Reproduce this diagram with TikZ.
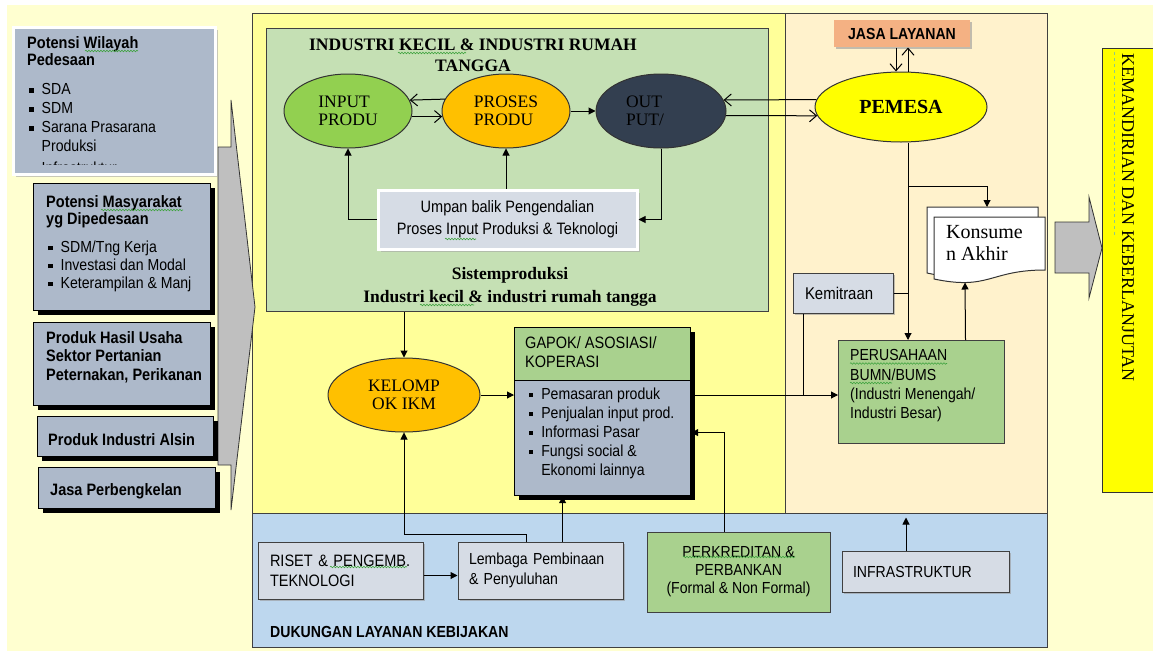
\documentclass[tikz,border=0pt]{standalone}
\usepackage{fontspec}
\setmainfont{Liberation Serif}
\setsansfont{Liberation Sans}[FakeStretch=0.88]
\usetikzlibrary{arrows.meta,shapes.geometric,shadows,calc,decorations.pathmorphing}

\definecolor{cream}{HTML}{FFFFD0}
\definecolor{panelY}{HTML}{FFFF99}
\definecolor{panelP}{HTML}{FFF2CC}
\definecolor{panelB}{HTML}{BDD7EE}
\definecolor{panelG}{HTML}{C5E0B4}
\definecolor{boxG}{HTML}{A9D18E}
\definecolor{boxS}{HTML}{ADB9CA}
\definecolor{boxL}{HTML}{D6DCE5}
\definecolor{salmon}{HTML}{F4B183}
\definecolor{navy}{HTML}{333F50}
\definecolor{lime}{HTML}{92D050}
\definecolor{amber}{HTML}{FFC000}
\definecolor{lemon}{HTML}{FFFF00}
\definecolor{arrowgray}{HTML}{BFBFBF}
\definecolor{edge}{HTML}{404040}
\definecolor{spellgreen}{HTML}{3FA33F}

\newcommand{\sfx}[2]{\sffamily\fontsize{#1}{#2}\selectfont}
\newcommand{\rmx}[2]{\rmfamily\fontsize{#1}{#2}\selectfont}
\newcommand{\sqb}{\makebox[12.5pt][l]{\rule[2pt]{4.5pt}{4.5pt}}}

\tikzset{
  panel/.style={draw=edge, line width=1.2pt, anchor=north west, inner sep=0pt},
  blk/.style={anchor=north west, inner sep=0pt},
  txt/.style={anchor=north west, inner sep=0pt, align=left},
  elli/.style={ellipse, draw=black!80, line width=1pt, inner sep=0pt},
  darkbox/.style={draw=black, line width=1.2pt, fill=boxS,
    drop shadow={shadow xshift=4pt, shadow yshift=-4pt, fill=black, opacity=1}},
  softbox/.style={draw=edge, line width=1pt,
    drop shadow={shadow xshift=2pt, shadow yshift=-2pt, fill=black!40, opacity=0.6}},
  whitebox/.style={draw=white, line width=3pt,
    drop shadow={shadow xshift=2.5pt, shadow yshift=-2.5pt, fill=black!35, opacity=0.6}},
  conn/.style={line width=1pt, draw=black},
  tri/.style={conn, -{Triangle[length=7pt,width=7pt]}},
  barb/.style={conn, -{Straight Barb[length=7pt,width=12pt]}},
  bigarrow/.style={fill=arrowgray, draw=black!80, line width=0.8pt},
  spell/.style={draw=spellgreen, line width=0.6pt, decorate,
    decoration={snake, amplitude=0.8pt, segment length=3pt}},
}

\begin{document}
\begin{tikzpicture}[x=1pt,y=-1pt]
\useasboundingbox (0,0) rectangle (1153,651);
\fill[white] (0,0) rectangle (1153,651);
\fill[cream] (7,5) rectangle (1153,651);

% main panels
\node[panel, fill=panelY, minimum width=533pt, minimum height=500pt] (Yp) at (252,13) {};
\node[panel, fill=panelP, minimum width=262pt, minimum height=500pt] (Pp) at (785,13) {};
\node[panel, fill=panelB, minimum width=795pt, minimum height=134pt] (Bp) at (252,513) {};
\node[panel, fill=panelG, minimum width=502pt, minimum height=283pt] (Gr) at (266,28) {};

% big arrows
\filldraw[bigarrow] (218,147) -- (231,147) -- (231,100) -- (255,307) -- (231,510) -- (231,465) -- (218,465) -- cycle;
\filldraw[bigarrow] (1055,222) -- (1089,222) -- (1089,197) -- (1102,248) -- (1089,298) -- (1089,273) -- (1055,273) -- cycle;

% left column
\node[whitebox, fill=boxS, blk, minimum width=202pt, minimum height=147pt] (W1) at (12,26) {};
\begin{scope}
  \clip (12,26) rectangle (214,164);
  \node[txt, font={\sfx{16.5}{17}\bfseries}] (W1t) at (27,36) {Potensi Wilayah\\Pedesaan};
  \node[txt, font={\sfx{16}{19}}] (W1b) at (29,83.4) {\sqb SDA\\\sqb SDM\\\sqb Sarana Prasarana\\\hspace*{12.5pt}Produksi\\[3pt]\sqb Infrastruktur};
\end{scope}
\draw[spell] (85,51) -- (138,51);

\node[darkbox, blk, minimum width=177pt, minimum height=127pt] (W2) at (33,183) {};
\node[txt, font={\sfx{16.5}{17}\bfseries}] (W2t) at (46,195) {Potensi Masyarakat\\yg Dipedesaan};
\node[txt, font={\sfx{16}{18}}] (W2b) at (48,240.4) {\sqb SDM/Tng Kerja\\\sqb Investasi dan Modal\\\sqb Keterampilan \& Manj};
\draw[spell] (101,210) -- (183,210);

\node[darkbox, blk, minimum width=177pt, minimum height=83pt] (W3) at (33,322) {};
\node[txt, font={\sfx{16.5}{18.5}\bfseries}] (W3t) at (46,331) {Produk Hasil Usaha\\Sektor Pertanian\\Peternakan, Perikanan};

\node[darkbox, blk, minimum width=176pt, minimum height=40pt] (W4) at (37,416) {};
\node[txt, font={\sfx{16.5}{18}\bfseries}] (W4t) at (48,433) {Produk Industri Alsin};

\node[darkbox, blk, minimum width=177pt, minimum height=41pt] (W5) at (38,467) {};
\node[txt, font={\sfx{16.5}{18}\bfseries}] (W5t) at (50,483) {Jasa Perbengkelan};

% production system
\node[anchor=north, inner sep=0pt, align=center, font={\rmx{17.5}{21}\bfseries}] (gt) at (473,38.4) {INDUSTRI KECIL \& INDUSTRI RUMAH\\TANGGA};
\node[anchor=north, inner sep=0pt, align=center, font={\rmx{17.5}{23}\bfseries}] (gb) at (510,267) {Sistemproduksi\\Industri kecil \& industri rumah tangga};
\draw[spell] (398,53) -- (466,53);
\draw[spell] (420,305) -- (474,305);

\node[elli, fill=lime, minimum width=128pt, minimum height=74pt, align=left, font={\rmx{17.5}{18}}] (I) at (348,111) {INPUT\\PRODU};
\node[elli, fill=amber, minimum width=128pt, minimum height=74pt, align=left, font={\rmx{17.5}{18}}] (P) at (506,111) {PROSES\\PRODU};
\node[elli, fill=navy, minimum width=130pt, minimum height=74pt, align=left, font={\rmx{17.5}{18}}, text=black] (O) at (661,111) {OUT\\PUT/\hspace*{32pt}};

\node[whitebox, fill=boxL, minimum width=259pt, minimum height=59pt, align=center, font={\sfx{16.5}{22}}] (F) at (507.5,219.5) {Umpan balik Pengendalian\\Proses Input Produksi \& Teknologi};
\draw[spell] (445,239) -- (476,239);

\draw[barb] (P.169.8) -- (I.10.2);
\draw[barb] (I.-5.4) -- (P.185.4);
\draw[tri] (P.east) -- (O.west);
\draw[tri] (F.west) -| (I.south);
\draw[tri] (P.south |- F.north) -- (P.south);
\draw[tri] (O.south) |- (F.east);

% group level
\node[elli, fill=amber, minimum width=152pt, minimum height=74pt, align=center, font={\rmx{17.5}{18}}] (K) at (404,395) {KELOMP\\OK IKM};
\node[darkbox, blk, minimum width=176pt, minimum height=168pt] (G) at (514,327) {};
\node[draw=black, line width=1.2pt, fill=boxG, blk, minimum width=176pt, minimum height=53pt] (Gh) at (514,327) {};
\node[txt, font={\sfx{16.5}{19}}] (Ght) at (525,336.4) {GAPOK/ ASOSIASI/\\KOPERASI};
\node[txt, font={\sfx{16}{19}}] (Gbt) at (528.6,387.4) {\sqb Pemasaran produk\\\sqb Penjualan input prod.\\\sqb Informasi Pasar\\\sqb Fungsi social \&\\\hspace*{12.5pt}Ekonomi lainnya};

\draw[tri] (K.north |- Gr.south) -- (K.north);
\draw[tri] (K.east) -- (K.east -| G.west);

% market side
\node[softbox, fill=salmon, draw=none, minimum width=136pt, minimum height=27pt, font={\sfx{16}{18}\bfseries}] (J) at (902,33.5) {JASA LAYANAN};
\node[elli, fill=lemon, minimum width=172pt, minimum height=70pt, font={\rmx{20}{22}\bfseries}] (M) at (901,107) {PEMESA};

\draw[barb] (M.175.3) -- (O.10);
\draw[barb] (O.-4.4) -- (M.186.2);

\coordinate (ja) at ([xshift=-6pt]J.south);
\coordinate (jb) at ([xshift=6pt]J.south);
\draw[barb] (ja) -- (ja |- M.north);
\draw[barb] (jb |- M.north) -- (jb);

\filldraw[draw=black!80, fill=white, line width=1pt] (927,207) -- (1038,207) -- (1038,263.7) .. controls (982.5,263.7) and (982.5,285.3) .. (927,273) -- cycle;
\filldraw[draw=black!80, fill=white, line width=1pt] (934,217) -- (1045,217) -- (1045,270) .. controls (989.5,270) and (989.5,290.6) .. (934,279) -- cycle;
\node[txt, font={\rmx{20}{22}}] (Ka) at (946,225.5) {Konsume\\n Akhir};

\node[softbox, fill=boxL, minimum height=40pt, text width=76pt, inner xsep=12pt, align=left, font={\sfx{17}{18}}] (Km) at (843,293) {Kemitraan};
\node[draw=edge, line width=1pt, fill=boxG, blk, minimum width=166pt, minimum height=103pt] (U) at (838,340) {};
\node[txt, font={\sfx{16}{19.3}}] (Ut) at (850,349.4) {PERUSAHAAN\\BUMN/BUMS\\(Industri Menengah/\\Industri Besar)};
\draw[spell] (850,363.5) -- (947,363.5);
\draw[spell] (850,383) -- (892,383);

\coordinate (mx) at ([xshift=7pt]M.south);
\coordinate (b1) at ([yshift=-44pt]mx);
\coordinate (kn) at (987,207);
\coordinate (kx) at ([xshift=-40pt]Km.south);
\coordinate (ux) at ([xshift=44pt]U.north);
\coordinate (kb) at (965,282.5);

\draw[tri] (mx) -- (mx |- U.north);
\draw[tri] (b1) -| (kn);
\draw[conn] (Km.east) -- (Km.east -| mx);
\draw[conn] (kx) -- (kx |- K.east);
\draw[tri] (K.east -| G.east) -- (K.east -| U.west);
\draw[tri] (ux) -- (kb);

% policy support
\node[softbox, fill=boxL, minimum height=57pt, text width=141pt, inner xsep=12pt, align=left, font={\sfx{16.5}{20}}] (R) at (340.5,570.5) {RISET \& PENGEMB.\\TEKNOLOGI};
\node[softbox, fill=boxL, minimum height=57pt, text width=143pt, inner xsep=11pt, align=left, font={\sfx{16}{20}}] (L) at (540.5,570.5) {Lembaga Pembinaan\\\& Penyuluhan};
\node[draw=edge, line width=1pt, fill=boxG, minimum width=183pt, minimum height=80pt, align=center, font={\sfx{16}{18}}] (Pk) at (738.5,572) {PERKREDITAN \&\\PERBANKAN\\(Formal \& Non Formal)};
\node[softbox, fill=boxL, minimum height=41pt, text width=145pt, inner xsep=11pt, align=left, font={\sfx{16}{18}}] (In) at (925.5,571.5) {INFRASTRUKTUR};
\node[anchor=base west, inner sep=0pt, font={\sfx{16}{18}\bfseries}] (Dk) at (270,637) {DUKUNGAN LAYANAN KEBIJAKAN};
\draw[spell] (330,567) -- (407,567);
\draw[spell] (683,557) -- (795,557);

\coordinate (gx) at ([xshift=-40pt]G.south);
\coordinate (px) at ([xshift=-14.5pt]Pk.north);
\coordinate (ge) at ([yshift=-21pt]G.east);

\draw[tri] ([yshift=-5pt]R.east) -- ([yshift=-5pt]L.west);
\draw[tri] ([xshift=-14.5pt]L.north) -- ++(0,-7) -| (K.south);
\draw[tri] (L.north -| gx) -- (gx);
\draw[tri] (px) |- (ge);
\draw[tri] ([xshift=-19.5pt]In.north) -- ++(0,-33);

% outcome
\node[draw=black!80, line width=1pt, fill=lemon, blk, minimum width=51pt, minimum height=444pt] (Kb) at (1102,48) {};
\draw[spellgreen!60, line width=0.6pt, dashed] (1114,52) -- (1114,235);
\node[rotate=-90, anchor=base west, inner sep=0pt, font={\rmx{18}{20}}] (Kt) at (1122,53) {KEMANDIRIAN DAN KEBERLANJUTAN};
\end{tikzpicture}
\end{document}
